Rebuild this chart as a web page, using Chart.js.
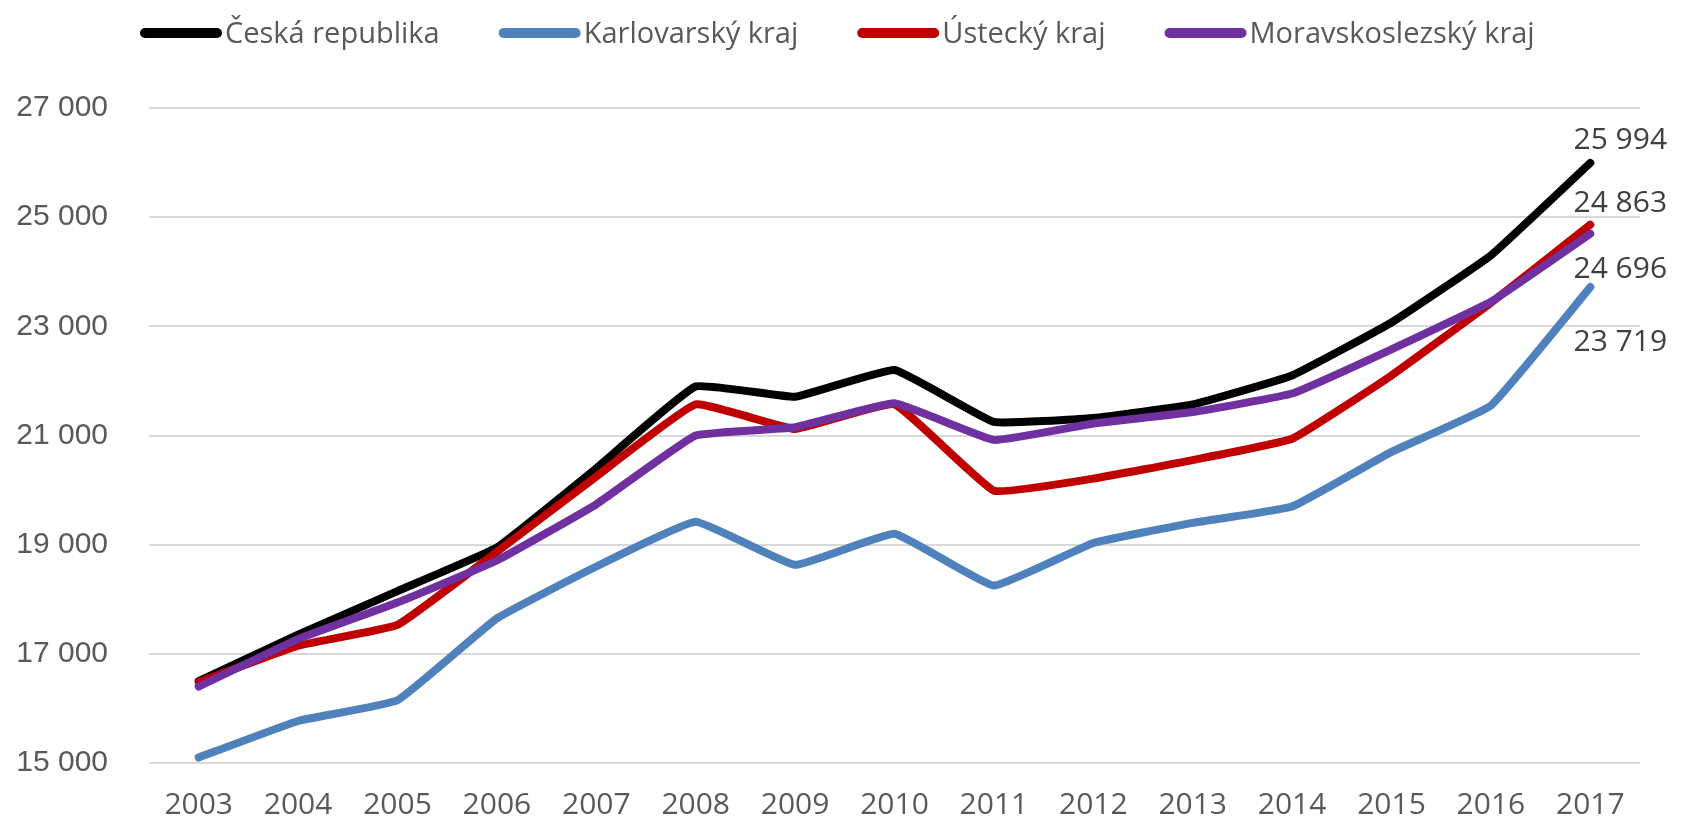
<!DOCTYPE html>
<html>
<head>
<meta charset="utf-8">
<script src="https://cdn.jsdelivr.net/npm/chart.js@4"></script>
<style>
  html, body { margin: 0; padding: 0; background: #ffffff; }
  #wrap { width: 1688px; height: 822px; }
</style>
</head>
<body>
<div id="wrap"><canvas id="incomeChart" width="1688" height="822"></canvas></div>
<script>
// data
const years = ['2003', '2004', '2005', '2006', '2007', '2008', '2009', '2010', '2011', '2012', '2013', '2014', '2015', '2016', '2017'];
const seriesNames = ['Česká republika', 'Karlovarský kraj', 'Ústecký kraj', 'Moravskoslezský kraj'];
const ceskaRepublika = [16500, 17350, 18150, 18950, 20400, 21900, 21710, 22200, 21250, 21320, 21570, 22100, 23070, 24300, 25994];
const karlovarsky = [15100, 15770, 16150, 17650, 18600, 19420, 18630, 19200, 18250, 19030, 19400, 19700, 20700, 21550, 23719];
const ustecky = [16480, 17150, 17530, 18870, 20250, 21570, 21120, 21570, 19990, 20210, 20550, 20940, 22100, 23430, 24863];
const moravskoslezsky = [16400, 17270, 17940, 18710, 19740, 21000, 21150, 21590, 20920, 21220, 21430, 21770, 22580, 23450, 24696];
const yTicks = [15000, 17000, 19000, 21000, 23000, 25000, 27000];

const colors = ['#000000', '#4f81bd', '#c00000', '#7030a0'];
const allValues = [ceskaRepublika, karlovarsky, ustecky, moravskoslezsky];

function fmt(v) {
    return String(v).replace(/\B(?=(\d{3})+(?!\d))/g, ' ');
}

// value labels on the last point (offsets in px from the point)
const endLabelOffsets = [[30, -22], [30, 55], [30, -21], [30, 36]];

const endLabels = {
    id: 'endLabels',
    afterDatasetsDraw(chart) {
        const ctx = chart.ctx;
        ctx.save();
        ctx.font = '30px "Open Sans"';
        ctx.fillStyle = '#404040';
        ctx.textAlign = 'center';
        ctx.textBaseline = 'middle';
        chart.data.datasets.forEach((ds, i) => {
            const meta = chart.getDatasetMeta(i);
            const last = meta.data[meta.data.length - 1];
            const off = endLabelOffsets[i];
            ctx.fillText(fmt(ds.data[ds.data.length - 1]), last.x + off[0], last.y + off[1]);
        });
        ctx.restore();
    }
};

// legend drawn as thick line + text, laid out left to right
const lineLegend = {
    id: 'lineLegend',
    afterDraw(chart) {
        const ctx = chart.ctx;
        ctx.save();
        ctx.font = '29px "Open Sans"';
        ctx.textBaseline = 'alphabetic';
        let x = 140;
        const y = 33;
        chart.data.datasets.forEach((ds) => {
            ctx.strokeStyle = ds.borderColor;
            ctx.lineWidth = 10;
            ctx.lineCap = 'round';
            ctx.beginPath();
            ctx.moveTo(x + 5, y);
            ctx.lineTo(x + 77, y);
            ctx.stroke();
            ctx.fillStyle = '#595959';
            ctx.fillText(ds.label, x + 85, y + 10);
            x += 85 + ctx.measureText(ds.label).width + 59;
        });
        ctx.restore();
    }
};

const ctx = document.getElementById('incomeChart').getContext('2d');
new Chart(ctx, {
    type: 'line',
    data: {
        labels: years,
        datasets: seriesNames.map((name, i) => ({
            label: name,
            data: allValues[i],
            borderColor: colors[i],
            backgroundColor: colors[i],
            borderWidth: 8,
            borderCapStyle: 'round',
            borderJoinStyle: 'round',
            pointRadius: 0,
            pointHoverRadius: 0,
            tension: 0.1,
            fill: false,
            order: seriesNames.length - 1 - i
        }))
    },
    options: {
        responsive: false,
        animation: false,
        devicePixelRatio: 1,
        layout: {
            padding: { top: 108, right: 48, bottom: 0, left: 0 }
        },
        scales: {
            x: {
                offset: true,
                afterFit(scale) { scale.height = 59; },
                grid: { display: false, drawTicks: false },
                border: { display: false },
                ticks: {
                    color: '#595959',
                    font: { family: 'Open Sans', size: 30, lineHeight: 1.0 },
                    padding: 27,
                    maxRotation: 0,
                    autoSkip: false
                }
            },
            y: {
                min: 15000,
                max: 27000,
                afterFit(scale) { scale.width = 149; },
                afterBuildTicks(scale) { scale.ticks = yTicks.map(v => ({ value: v })); },
                grid: { color: '#d9d9d9', lineWidth: 2, drawTicks: false },
                border: { display: false },
                ticks: {
                    color: '#595959',
                    font: { family: 'Liberation Sans', size: 30 },
                    padding: 41,
                    callback: (v) => fmt(v)
                }
            }
        },
        plugins: {
            legend: { display: false },
            tooltip: { enabled: false }
        }
    },
    plugins: [endLabels, lineLegend]
});
</script>
</body>
</html>
